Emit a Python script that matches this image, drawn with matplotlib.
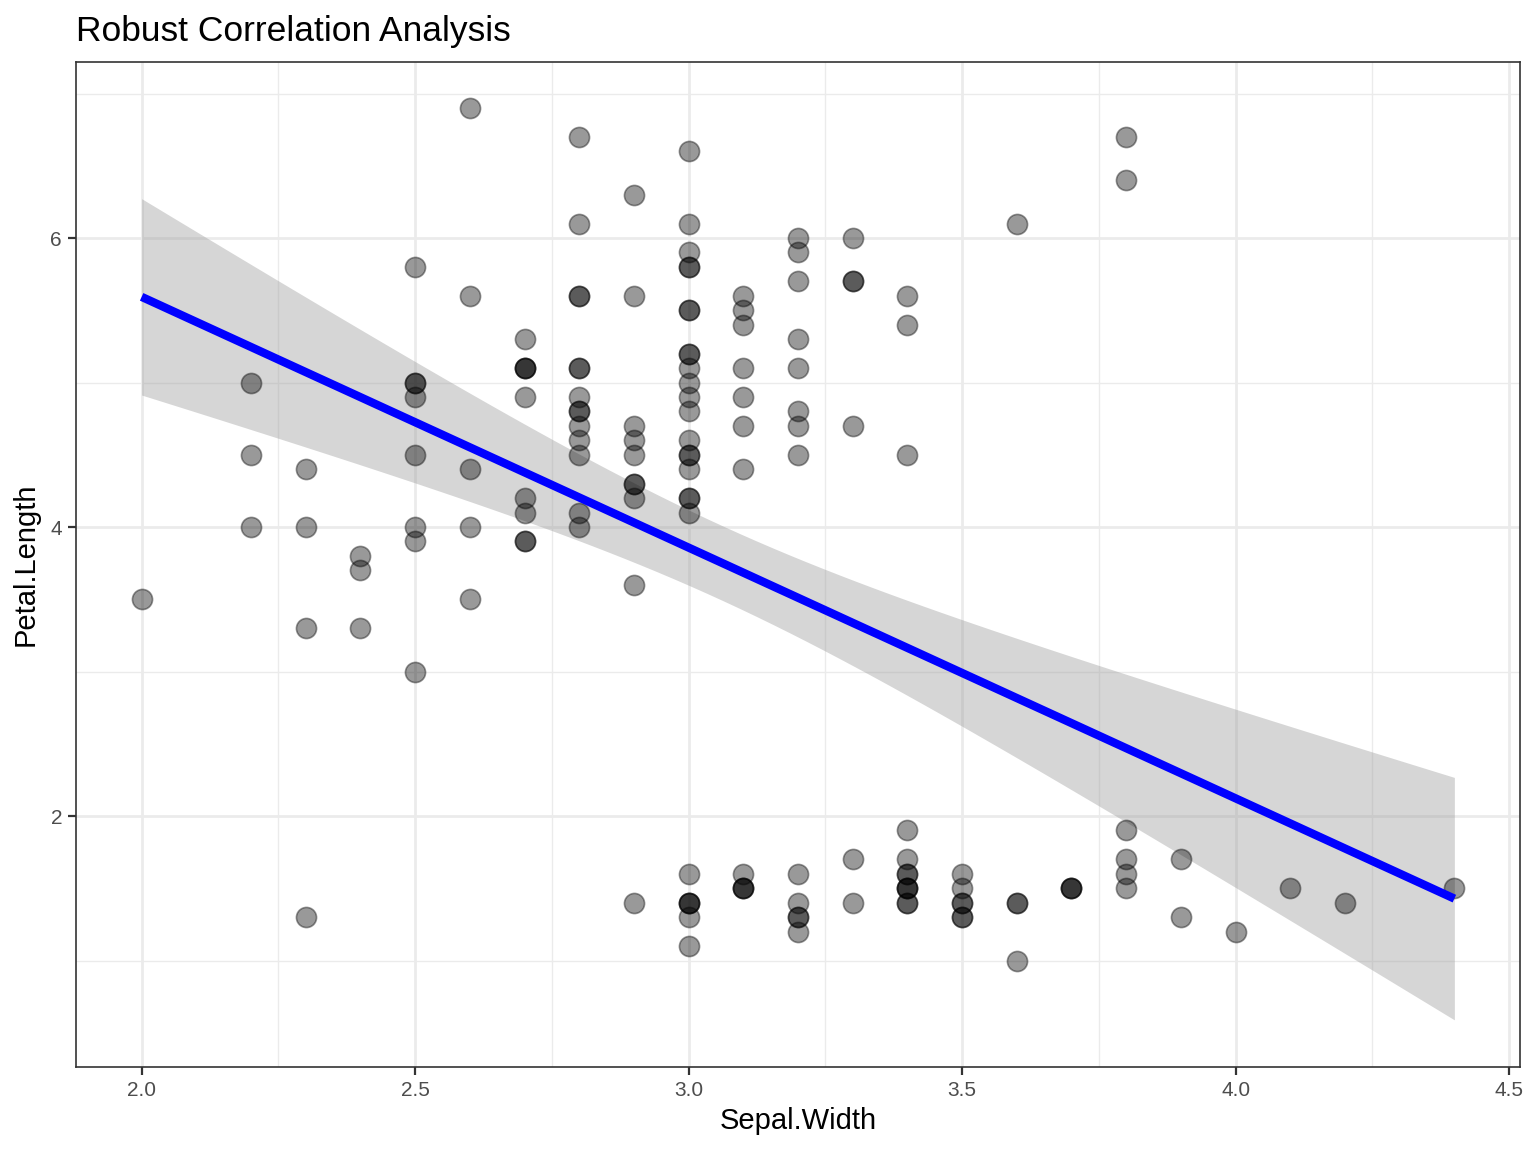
import numpy as np
import matplotlib
matplotlib.use("Agg")
import matplotlib.pyplot as plt
from matplotlib.ticker import MultipleLocator

plt.rcParams['font.family'] = ['Liberation Sans', 'DejaVu Sans']

# iris: Sepal.Width and Petal.Length (setosa, versicolor, virginica)
sepal_width = [
    3.5, 3.0, 3.2, 3.1, 3.6, 3.9, 3.4, 3.4, 2.9, 3.1, 3.7, 3.4, 3.0, 3.0, 4.0, 4.4, 3.9, 3.5, 3.8, 3.8,
    3.4, 3.7, 3.6, 3.3, 3.4, 3.0, 3.4, 3.5, 3.4, 3.2, 3.1, 3.4, 4.1, 4.2, 3.1, 3.2, 3.5, 3.6, 3.0, 3.4,
    3.5, 2.3, 3.2, 3.5, 3.8, 3.0, 3.8, 3.2, 3.7, 3.3,
    3.2, 3.2, 3.1, 2.3, 2.8, 2.8, 3.3, 2.4, 2.9, 2.7, 2.0, 3.0, 2.2, 2.9, 2.9, 3.1, 3.0, 2.7, 2.2, 2.5,
    3.2, 2.8, 2.5, 2.8, 2.9, 3.0, 2.8, 3.0, 2.9, 2.6, 2.4, 2.4, 2.7, 2.7, 3.0, 3.4, 3.1, 2.3, 3.0, 2.5,
    2.6, 3.0, 2.6, 2.3, 2.7, 3.0, 2.9, 2.9, 2.5, 2.8,
    3.3, 2.7, 3.0, 2.9, 3.0, 3.0, 2.5, 2.9, 2.5, 3.6, 3.2, 2.7, 3.0, 2.5, 2.8, 3.2, 3.0, 3.8, 2.6, 2.2,
    3.2, 2.8, 2.8, 2.7, 3.3, 3.2, 2.8, 3.0, 2.8, 3.0, 2.8, 3.8, 2.8, 2.8, 2.6, 3.0, 3.4, 3.1, 3.0, 3.1,
    3.1, 3.1, 2.7, 3.2, 3.3, 3.0, 2.5, 3.0, 3.4, 3.0,
]
petal_length = [
    1.4, 1.4, 1.3, 1.5, 1.4, 1.7, 1.4, 1.5, 1.4, 1.5, 1.5, 1.6, 1.4, 1.1, 1.2, 1.5, 1.3, 1.4, 1.7, 1.5,
    1.7, 1.5, 1.0, 1.7, 1.9, 1.6, 1.6, 1.5, 1.4, 1.6, 1.6, 1.5, 1.5, 1.4, 1.5, 1.2, 1.3, 1.4, 1.3, 1.5,
    1.3, 1.3, 1.3, 1.6, 1.9, 1.4, 1.6, 1.4, 1.5, 1.4,
    4.7, 4.5, 4.9, 4.0, 4.6, 4.5, 4.7, 3.3, 4.6, 3.9, 3.5, 4.2, 4.0, 4.7, 3.6, 4.4, 4.5, 4.1, 4.5, 3.9,
    4.8, 4.0, 4.9, 4.7, 4.3, 4.4, 4.8, 5.0, 4.5, 3.5, 3.8, 3.7, 3.9, 5.1, 4.5, 4.5, 4.7, 4.4, 4.1, 4.0,
    4.4, 4.6, 4.0, 3.3, 4.2, 4.2, 4.2, 4.3, 3.0, 4.1,
    6.0, 5.1, 5.9, 5.6, 5.8, 6.6, 4.5, 6.3, 5.8, 6.1, 5.1, 5.3, 5.5, 5.0, 5.1, 5.3, 5.5, 6.7, 6.9, 5.0,
    5.7, 4.9, 6.7, 4.9, 5.7, 6.0, 4.8, 4.9, 5.6, 5.8, 6.1, 6.4, 5.6, 5.1, 5.6, 6.1, 5.6, 5.5, 4.8, 5.4,
    5.6, 5.1, 5.1, 5.9, 5.7, 5.2, 5.0, 5.2, 5.4, 5.1,
]

x = np.array(sepal_width)
y = np.array(petal_length)

# linear fit with 95% confidence band (like geom_smooth(method = "lm"))
n = len(x)
slope, intercept = np.polyfit(x, y, 1)
resid = y - (intercept + slope * x)
s_res = np.sqrt(np.sum(resid ** 2) / (n - 2))
sxx = np.sum((x - x.mean()) ** 2)
xs = np.linspace(x.min(), x.max(), 80)
fit = intercept + slope * xs
se = s_res * np.sqrt(1.0 / n + (xs - x.mean()) ** 2 / sxx)
t975 = 1.9762  # t quantile, df = 148
lo, hi = fit - t975 * se, fit + t975 * se

fig = plt.figure(figsize=(15.36, 11.52), dpi=100)
ax = fig.add_axes([76 / 1536, 1 - 1067 / 1152, (1520 - 76) / 1536, (1067 - 62) / 1152])

ax.fill_between(xs, lo, hi, color='#999999', alpha=0.4, linewidth=0, zorder=2)
ax.scatter(x, y, s=210, facecolor=(0, 0, 0, 0.4), edgecolor=(0, 0, 0, 0.4), linewidth=1.2, zorder=3)
ax.plot(xs, fit, color='#0000FF', linewidth=6, zorder=4, solid_capstyle='butt')

ax.set_xlim(1.88, 4.52)
ax.set_ylim(0.263, 7.218)
ax.xaxis.set_major_locator(MultipleLocator(0.5))
ax.xaxis.set_minor_locator(MultipleLocator(0.25))
ax.yaxis.set_major_locator(MultipleLocator(2))
ax.yaxis.set_minor_locator(MultipleLocator(1))
ax.xaxis.set_major_formatter(plt.FuncFormatter(lambda v, p: f"{v:.1f}"))
ax.yaxis.set_major_formatter(plt.FuncFormatter(lambda v, p: f"{v:.0f}"))

ax.grid(which='major', color='#EBEBEB', linewidth=2.0, zorder=0)
ax.grid(which='minor', color='#EBEBEB', linewidth=1.0, zorder=0)
ax.set_axisbelow(True)
for sp in ax.spines.values():
    sp.set_color('#333333')
    sp.set_linewidth(1.2)
ax.tick_params(which='major', length=6, width=1.6, color='#333333', labelsize=15,
               labelcolor='#4D4D4D', pad=4)
ax.tick_params(which='minor', length=0)

ax.set_xlabel('Sepal.Width', fontsize=21, labelpad=5)
ax.set_ylabel('Petal.Length', fontsize=21, labelpad=8)
ax.set_title('Robust Correlation Analysis', fontsize=25.5, loc='left', pad=15, x=0)

fig.savefig('out.png', dpi=100)
